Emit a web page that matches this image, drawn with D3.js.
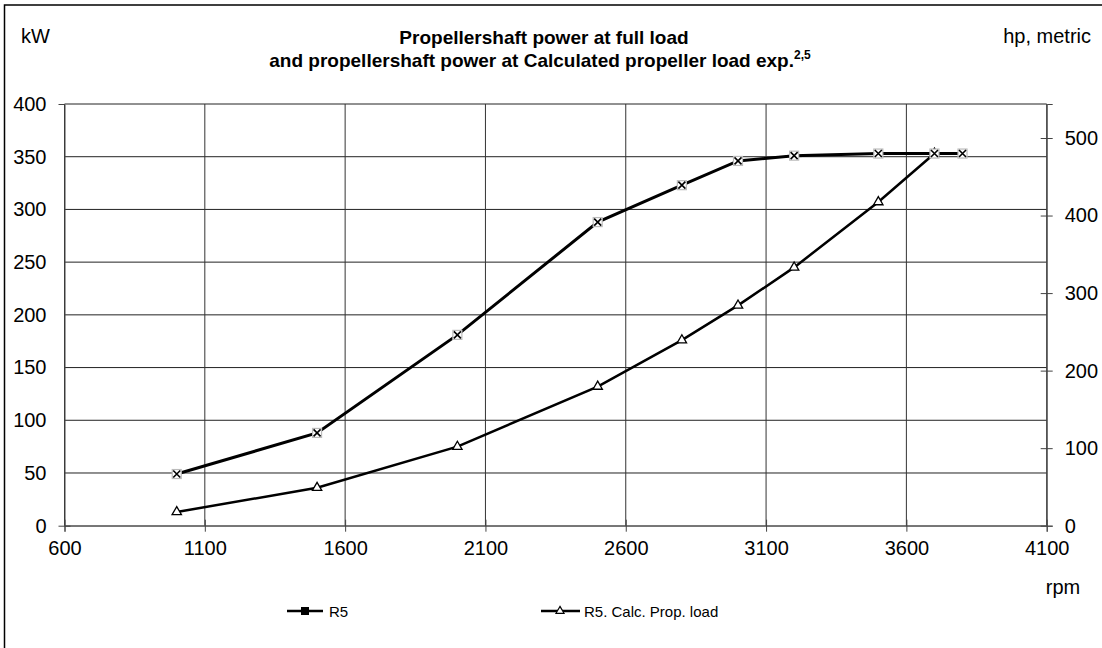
<!DOCTYPE html>
<html><head><meta charset="utf-8">
<script src="https://cdn.jsdelivr.net/npm/d3@7"></script>
<style>body{margin:0;background:#fff}text{font-family:"Liberation Sans",Arial,sans-serif}</style>
</head><body>
<svg id="c" width="1102" height="648"></svg>
<script>
const rpm = [1000,1500,2000,2500,2800,3000,3200,3500,3700,3800];
const fullLoadKW = [49,88,181,288,323,346,351,353,353,353];
const propRpm = [1000,1500,2000,2500,2800,3000,3200,3500,3700];
const propLoadKW = [13,36,75,132,176,209,245,307,353];
const xTicks = [600,1100,1600,2100,2600,3100,3600,4100];
const yTicks = [0,50,100,150,200,250,300,350,400];
const hpTicks = [0,100,200,300,400,500];
const seriesNames = ["R5","R5. Calc. Prop. load"];

const svg = d3.select("#c");
const L=64.5, R=1046.7, T=104, B=525.7;
const x = d3.scaleLinear().domain([600,4100]).range([L,R]);
const y = d3.scaleLinear().domain([0,400]).range([B,T]);
const yHp = d3.scaleLinear().domain([0,400/0.73549875]).range([B,T]);

// outer frame
svg.append("rect").attr("x",4.5).attr("y",5).attr("width",1200).attr("height",700)
  .attr("fill","none").attr("stroke","#000").attr("stroke-width",1.5);

// grid
const g = svg.append("g");
g.selectAll(".hg").data(yTicks).join("line")
  .attr("x1",L).attr("x2",R).attr("y1",d=>y(d)).attr("y2",d=>y(d))
  .attr("stroke",d=>d===0?"#777":"#222").attr("stroke-width",1);
g.selectAll(".vg").data(xTicks).join("line")
  .attr("y1",T).attr("y2",B).attr("x1",d=>x(d)).attr("x2",d=>x(d))
  .attr("stroke","#333").attr("stroke-width",1);

// axes
const axL = d3.axisLeft(y).tickValues(yTicks).tickSize(6).tickPadding(12).tickFormat(d3.format("d"));
const gl = svg.append("g").attr("transform",`translate(${L},0)`).call(axL);
const axB = d3.axisBottom(x).tickValues(xTicks).tickSize(6).tickPadding(9).tickFormat(d3.format("d"));
const gb = svg.append("g").attr("transform",`translate(0,${B})`).call(axB);
const axR = d3.axisRight(yHp).tickValues(hpTicks).tickSize(6).tickPadding(12).tickFormat(d3.format("d"));
const gr = svg.append("g").attr("transform",`translate(${R},0)`).call(axR);
[gl,gb,gr].forEach(a=>{
  a.attr("font-size",20);
  a.select(".domain").attr("stroke","#444");
  a.selectAll("line").attr("stroke","#444");
  a.selectAll("text").attr("font-size",20).attr("fill","#000")
   .style("font-family",'"Liberation Sans",Arial,sans-serif');
});
// crossing ticks
gr.selectAll(".tick line").attr("x1",-6);
gb.selectAll(".tick line").attr("y1",-6);
gl.selectAll(".tick line").attr("x2",d=>d===0?6:0);

// lines
const pts1 = rpm.map((r,i)=>[r,fullLoadKW[i]]);
const pts2 = propRpm.map((r,i)=>[r,propLoadKW[i]]);
const line = d3.line().x(d=>x(d[0])).y(d=>y(d[1]));
svg.append("path").attr("d",line(pts2)).attr("fill","none").attr("stroke","#000").attr("stroke-width",2.5);
svg.append("path").attr("d",line(pts1)).attr("fill","none").attr("stroke","#000").attr("stroke-width",3);

// prop markers (triangles)
const tri = d3.symbol().type(d3.symbolTriangle).size(38);
svg.selectAll(".tri").data(pts2).join("path")
  .attr("d",tri).attr("transform",d=>`translate(${x(d[0])},${y(d[1])})`)
  .attr("fill","#fff").attr("stroke","#000").attr("stroke-width",1.3);

// full load markers: grey square + X
const mk = svg.selectAll(".mk").data(pts1).join("g")
  .attr("transform",d=>`translate(${x(d[0])},${y(d[1])})`);
mk.append("rect").attr("x",-4.5).attr("y",-4.5).attr("width",9).attr("height",9)
  .attr("fill","#fff").attr("stroke","#bbb").attr("stroke-width",1.2);
mk.append("path").attr("d","M-3.5,-3.5L3.5,3.5M-3.5,3.5L3.5,-3.5")
  .attr("stroke","#000").attr("stroke-width",1.6);

// titles
svg.append("text").attr("x",544).attr("y",44).attr("text-anchor","middle")
  .attr("font-size",19).attr("font-weight","bold").text("Propellershaft power at full load");
const t2 = svg.append("text").attr("x",540).attr("y",67).attr("text-anchor","middle")
  .attr("font-size",19).attr("font-weight","bold");
t2.append("tspan").text("and propellershaft power at Calculated propeller load exp.");
t2.append("tspan").attr("font-size",12).attr("dy",-8).text("2,5");
svg.append("text").attr("x",21).attr("y",43).attr("font-size",20).text("kW");
svg.append("text").attr("x",1091).attr("y",43).attr("font-size",20).attr("text-anchor","end").text("hp, metric");
svg.append("text").attr("x",1063).attr("y",594).attr("font-size",20).attr("text-anchor","middle").text("rpm");

// legend
const lg1 = svg.append("g").attr("transform","translate(287,611)");
lg1.append("line").attr("x1",0).attr("x2",36).attr("stroke","#000").attr("stroke-width",2.5);
lg1.append("rect").attr("x",14).attr("y",-4).attr("width",8).attr("height",8).attr("fill","#000");
lg1.append("text").attr("x",42).attr("y",6).attr("font-size",15).text(seriesNames[0]);
const lg2 = svg.append("g").attr("transform","translate(541,611)");
lg2.append("line").attr("x1",0).attr("x2",39).attr("stroke","#000").attr("stroke-width",2.5);
lg2.append("path").attr("d",d3.symbol().type(d3.symbolTriangle).size(28)()).attr("transform","translate(19,0)")
  .attr("fill","#fff").attr("stroke","#000").attr("stroke-width",1.2);
lg2.append("text").attr("x",43).attr("y",6).attr("font-size",15).text(seriesNames[1]);
</script>
</body></html>
